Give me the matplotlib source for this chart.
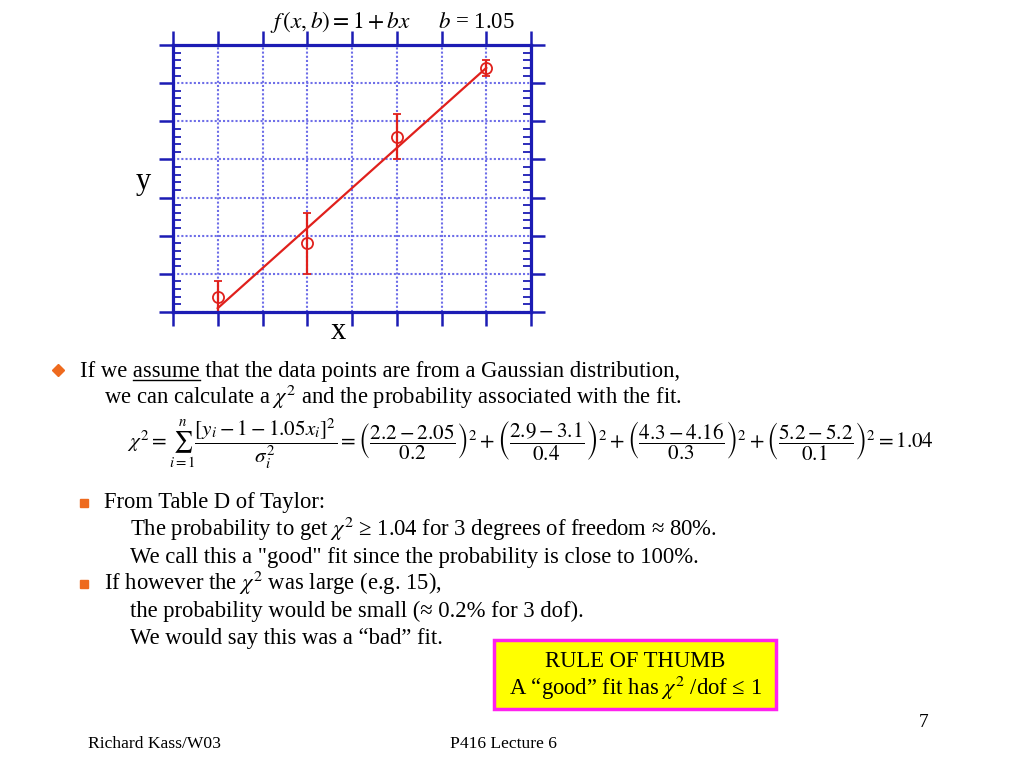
""" Slide: chi-square of a straight line fit, f(x,b) = 1 + bx. """

import matplotlib
matplotlib.use('Agg')
import matplotlib.pyplot as plt
from matplotlib.patches import Rectangle
from matplotlib.ticker import MultipleLocator

# Data points and errors
x_data = [1, 2, 3, 4]
y_data = [2.2, 2.9, 4.3, 5.2]
y_err = [0.2, 0.4, 0.3, 0.1]
b_fit = 1.05
fit_x = [1, 4]
fit_vals = ['2.05', '3.1', '4.16', '5.2']   # as written on the slide
chi2_total = '1.04'

red = '#e0201c'
blue = '#1c1cb4'
orange = '#ee6a1e'

plt.rcParams['font.family'] = ['Liberation Serif', 'DejaVu Serif']
plt.rcParams['mathtext.fontset'] = 'stix'

fig = plt.figure(figsize=(10.24, 7.68), dpi=100)

# Background axes in pixel coordinates (y down) for all the slide text
bg = fig.add_axes([0, 0, 1, 1], zorder=0)
bg.set_xlim(0, 1024)
bg.set_ylim(768, 0)
bg.axis('off')

# The plot itself
ax = fig.add_axes([173/1024, 1 - 312/768, (531 - 173)/1024, (312 - 45)/768], zorder=1)
ax.errorbar(x_data, y_data, yerr=y_err, fmt='o', mfc='none', mec=red, ecolor=red,
            ms=8, mew=1.3, capsize=3, elinewidth=1.6, capthick=1.4)
ax.plot(fit_x, [1 + b_fit*x for x in fit_x], color=red, lw=1.6)
ax.set_xlim(0.5, 4.5)
ax.set_ylim(2.0, 5.5)
ax.xaxis.set_major_locator(MultipleLocator(0.5))
ax.yaxis.set_major_locator(MultipleLocator(0.5))
ax.yaxis.set_minor_locator(MultipleLocator(0.1))
ax.grid(True, which='major', color='#6e6ee8', linestyle=(0, (1, 1)), lw=1.5)
ax.tick_params(which='major', direction='out', length=10, width=1.8, color=blue,
               top=True, right=True, labelleft=False, labelbottom=False)
ax.tick_params(axis='y', which='minor', direction='in', length=6, width=1.3,
               color=blue, left=True, right=True)
for sp in ax.spines.values():
    sp.set_color(blue)
    sp.set_linewidth(2.3)

# Axis letters and the function above the plot
bg.text(143, 189, 'y', fontsize=22, ha='center', va='baseline')
bg.text(338, 339, 'x', fontsize=22, ha='center', va='baseline')
bg.text(270, 28, r'$f\,(x,b) = 1 + bx$', fontsize=16.8, va='baseline')
bg.text(438, 28, r'$b$ = 1.05', fontsize=16.5, va='baseline')

# Body text
fs = 16.3
bg.plot(58, 370, marker='D', ms=6.5, color=orange)
bg.text(80, 377, 'If we assume that the data points are from a Gaussian distribution,',
        fontsize=fs, va='baseline')
bg.text(104, 404, r'we can calculate a $\chi^2$ and the probability associated with the fit.',
        fontsize=fs, va='baseline')

# underline "assume"
renderer = fig.canvas.get_renderer()
t1 = bg.text(80, 377, 'If we assume', fontsize=fs, va='baseline')
t2 = bg.text(80, 377, 'assume', fontsize=fs, va='baseline')
w1 = t1.get_window_extent(renderer).width
w2 = t2.get_window_extent(renderer).width
t1.remove()
t2.remove()
bg.plot([80 + w1 - w2, 80 + w1], [380, 380], color='black', lw=1)

terms = ' + '.join(r'\left(\dfrac{%s - %s}{%s}\right)^2' % (str(y), f, str(s))
                   for y, f, s in zip(y_data, fit_vals, y_err))
eq = (r'$\chi^2 = \sum_{i=1}^{n}\dfrac{[y_i - 1 - %s x_i]^2}{\sigma_i^2} = ' % b_fit
      + terms + r' = %s$' % chi2_total)
bg.text(127, 444, eq, fontsize=15.2, va='center')

bg.plot(84, 503, marker='s', ms=6, color=orange)
bg.text(104, 508, 'From Table D of Taylor:', fontsize=fs, va='baseline')
bg.text(130, 536, r'The probability to get $\chi^2$ ≥ 1.04 for 3 degrees of freedom ≈ 80%.',
        fontsize=fs, va='baseline')
bg.text(130, 563, 'We call this a "good" fit since the probability is close to 100%.',
        fontsize=fs, va='baseline')
bg.plot(84, 584, marker='s', ms=6, color=orange)
bg.text(104, 590, r'If however the $\chi^2$ was large (e.g. 15),', fontsize=fs, va='baseline')
bg.text(130, 617, 'the probability would be small (≈ 0.2% for 3 dof).',
        fontsize=fs, va='baseline')
bg.text(130, 644, 'We would say this was a “bad” fit.', fontsize=fs, va='baseline')

# Rule of thumb box
bg.add_patch(Rectangle((494, 640), 282, 69, facecolor='#ffff00', edgecolor='#ff22ee', lw=2.5))
bg.text(635, 667, 'RULE OF THUMB', fontsize=fs, ha='center', va='baseline')
bg.text(635, 695, r'A “good” fit has $\chi^2$ /dof ≤ 1', fontsize=fs, ha='center', va='baseline')

# Footer
bg.text(924, 727, '7', fontsize=14, ha='center', va='baseline')
bg.text(88, 748, 'Richard Kass/W03', fontsize=12.6, va='baseline')
bg.text(450, 748, 'P416 Lecture 6', fontsize=12.6, va='baseline')

fig.savefig('out.png', dpi=100)
